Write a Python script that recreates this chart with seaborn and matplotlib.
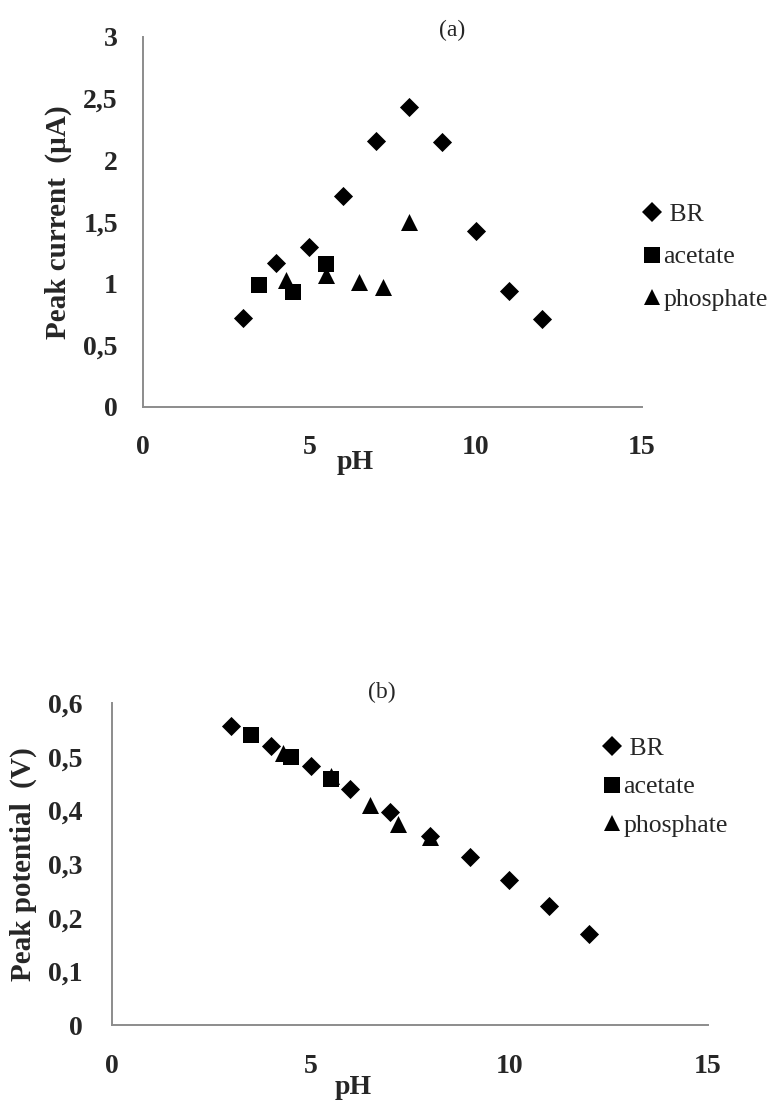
import matplotlib
matplotlib.use('Agg')
import matplotlib.pyplot as plt
from matplotlib.lines import Line2D
import pandas as pd
import seaborn as sns

# values
ph_br = [3, 4, 5, 6, 7, 8, 9, 10, 11, 12]
current_br = [0.72, 1.17, 1.30, 1.71, 2.16, 2.43, 2.15, 1.43, 0.94, 0.71]
potential_br = [0.557, 0.52, 0.482, 0.44, 0.397, 0.352, 0.313, 0.27, 0.222, 0.17]

ph_acetate = [3.5, 4.5, 5.5]
current_acetate = [0.99, 0.93, 1.16]
potential_acetate = [0.54, 0.50, 0.458]

ph_phosphate = [4.3, 5.5, 6.5, 7.2, 8]
current_phosphate = [1.03, 1.07, 1.01, 0.97, 1.50]
potential_phosphate = [0.507, 0.464, 0.41, 0.374, 0.35]

buffers = ['BR', 'acetate', 'phosphate']
marker_map = {'BR': 'D', 'acetate': 's', 'phosphate': '^'}

df = pd.concat([
    pd.DataFrame({'buffer': 'BR', 'pH': ph_br, 'current': current_br, 'potential': potential_br}),
    pd.DataFrame({'buffer': 'acetate', 'pH': ph_acetate, 'current': current_acetate, 'potential': potential_acetate}),
    pd.DataFrame({'buffer': 'phosphate', 'pH': ph_phosphate, 'current': current_phosphate, 'potential': potential_phosphate}),
])

sns.set_style('white')
plt.rcParams['font.family'] = ['Liberation Serif', 'DejaVu Serif']

fig = plt.figure(figsize=(7.72, 11.11), dpi=100)
ax1 = fig.add_axes([0.1852, 0.6337, 0.6464, 0.333])
ax2 = fig.add_axes([0.1451, 0.0774, 0.772, 0.2898])

sizes = {'BR': 95, 'acetate': 130, 'phosphate': 150}


def draw(ax, ycol):
    for b in buffers:
        sub = df[df['buffer'] == b]
        sns.scatterplot(x=sub['pH'], y=sub[ycol], marker=marker_map[b], s=sizes[b],
                        color='black', linewidth=0, ax=ax, legend=False)
    for side in ['top', 'right']:
        ax.spines[side].set_visible(False)
    for side in ['left', 'bottom']:
        ax.spines[side].set_color('#8c8c8c')
        ax.spines[side].set_linewidth(1.4)
    ax.set_xlim(0, 15)
    ax.set_xticks([0, 5, 10, 15])
    ax.tick_params(length=0, labelsize=20)
    for lab in ax.get_xticklabels() + ax.get_yticklabels():
        lab.set_fontweight('bold')


draw(ax1, 'current')
ax1.set_ylim(0, 3)
ax1.set_yticks([0, 0.5, 1, 1.5, 2, 2.5, 3])
ax1.set_yticklabels(['0', '0,5', '1', '1,5', '2', '2,5', '3'], fontweight='bold')
ax1.tick_params(axis='x', pad=20)
ax1.tick_params(axis='y', pad=18)
ax1.set_ylabel('Peak current  (µA)', fontsize=21, fontweight='bold')
ax1.yaxis.set_label_coords(-0.143, 0.5)
ax1.set_xlabel('pH', fontsize=20, fontweight='bold')
ax1.xaxis.set_label_coords(0.425, -0.115)

draw(ax2, 'potential')
ax2.set_ylim(0, 0.6)
ax2.set_yticks([0, 0.1, 0.2, 0.3, 0.4, 0.5, 0.6])
ax2.set_yticklabels(['0', '0,1', '0,2', '0,3', '0,4', '0,5', '0,6'], fontweight='bold')
ax2.tick_params(axis='x', pad=21)
ax2.tick_params(axis='y', pad=21)
ax2.set_ylabel('Peak potential  (V)', fontsize=21, fontweight='bold')
ax2.yaxis.set_label_coords(-0.126, 0.5)
ax2.set_xlabel('pH', fontsize=20, fontweight='bold')
ax2.xaxis.set_label_coords(0.405, -0.155)

fig.text(452 / 772, 1 - 30 / 1111, '(a)', fontsize=17, ha='center', va='center')
fig.text(382 / 772, 1 - 692 / 1111, '(b)', fontsize=17, ha='center', va='center')

handles = [Line2D([0], [0], marker=marker_map[b], color='black', linestyle='none',
                  markersize={'BR': 10, 'acetate': 12, 'phosphate': 12}[b], markeredgewidth=0)
           for b in buffers]
labels = [' BR', 'acetate', 'phosphate']
fig.legend(handles, labels, loc='center left', bbox_to_anchor=(630 / 772, 1 - 257 / 1111),
           frameon=False, fontsize=18.5, handlelength=0.7, handletextpad=0.1, labelspacing=0.75,
           borderpad=0)
fig.legend(handles, labels, loc='center left', bbox_to_anchor=(590 / 772, 1 - 787 / 1111),
           frameon=False, fontsize=18.5, handlelength=0.7, handletextpad=0.1, labelspacing=0.6,
           borderpad=0)

plt.savefig('out.png', dpi=100)
